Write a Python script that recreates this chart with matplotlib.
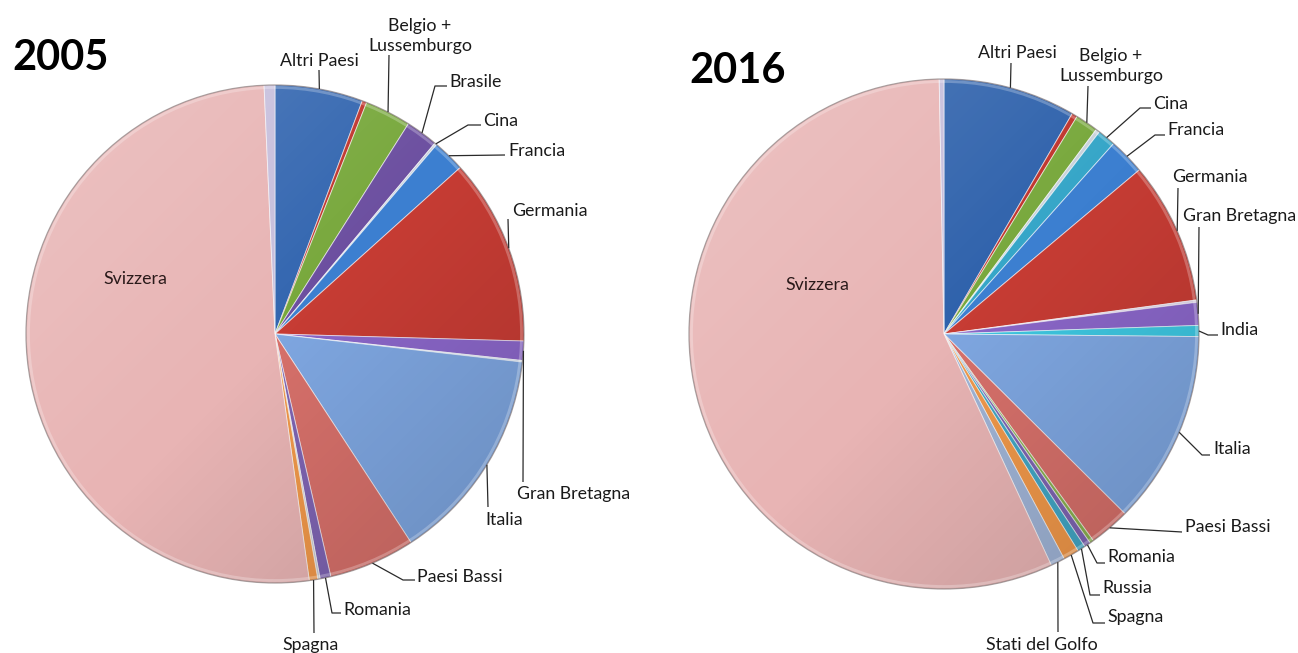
# -*- coding: utf-8 -*-
"""
Export share by destination country, 2005 vs 2016 (two pies).
"""
#=======================================================================
import numpy as np
import matplotlib
matplotlib.use("Agg")
import matplotlib.pyplot as plt
from matplotlib.patches import Circle
#=======================================================================

plt.rcParams['font.family'] = ['Lato', 'DejaVu Sans']

W, H = 1298, 653
LABEL_SIZE = 12.8

# slices run clockwise from 12 o'clock, shares in percent
labels_2005 = ['Altri Paesi', '', 'Belgio +\nLussemburgo', 'Brasile', 'Cina',
               'Francia', 'Germania', 'Gran Bretagna', '', 'Italia',
               'Paesi Bassi', 'Romania', '', 'Spagna', 'Svizzera', '']
values_2005 = [5.7, 0.3, 3.0, 2.1, 0.15, 2.1, 12.1, 1.25, 0.1, 14.0,
               5.6, 0.7, 0.15, 0.55, 51.5, 0.7]
colors_2005 = ['#3366b0', '#c0342c', '#78a83c', '#6c4fa0', '#c9d2dc',
               '#3c7fd0', '#c63c34', '#8a66c8', '#d8e4f4', '#7ea6e0',
               '#d6706a', '#7e64b2', '#c8ccd4', '#f0984a', '#e8b4b4', '#c6bedc']

labels_2016 = ['Altri Paesi', '', 'Belgio +\nLussemburgo', '', 'Cina',
               'Francia', 'Germania', '', 'Gran Bretagna', 'India', 'Italia',
               'Paesi Bassi', '', 'Romania', 'Russia', 'Spagna',
               'Stati del Golfo', 'Svizzera', '']
values_2016 = [8.4, 0.35, 1.45, 0.25, 1.15, 2.3, 9.0, 0.15, 1.45, 0.7, 12.3,
               2.6, 0.25, 0.4, 0.5, 1.0, 0.9, 56.7, 0.3]
colors_2016 = ['#2f62ac', '#c0342c', '#78a83c', '#c9d2dc', '#36a6c8',
               '#3c7fd0', '#c63c34', '#e0d8ec', '#8a66c8', '#3ec6e0', '#7ea6e0',
               '#d6706a', '#8ab050', '#7e64b2', '#42a6c4', '#f0984a',
               '#a0b4d6', '#e8b4b4', '#c6bedc']

# label layout in pixels (y down): text x, text y, align, leader waypoints
layout_2005 = {
    'Altri Paesi':            (319, 61, 'center', [(319, 70)]),
    'Belgio +\nLussemburgo':  (420, 36, 'center', [(389, 55)]),
    'Brasile':                (449, 82, 'left', [(435, 86), (447, 86)]),
    'Cina':                   (483, 121, 'left', [(468, 125), (481, 125)]),
    'Francia':                (508, 151, 'left', [(505, 155)]),
    'Germania':               (512, 211, 'left', [(508, 219)]),
    'Gran Bretagna':          (517, 494, 'left', [(523, 482)]),
    'Italia':                 (485, 520, 'left', [(488, 507)]),
    'Paesi Bassi':            (417, 577, 'left', [(403, 580), (415, 580)]),
    'Romania':                (343, 610, 'left', [(332, 613), (341, 613)]),
    'Spagna':                 (311, 645, 'center', [(314, 633)]),
}
layout_2016 = {
    'Altri Paesi':            (1017, 53, 'center', [(1011, 63)]),
    'Belgio +\nLussemburgo':  (1111, 66, 'center', [(1088, 86)]),
    'Cina':                   (1153, 104, 'left', [(1140, 108), (1151, 108)]),
    'Francia':                (1167, 130, 'left', [(1155, 135), (1165, 135)]),
    'Germania':               (1172, 177, 'left', [(1178, 188)]),
    'Gran Bretagna':          (1183, 216, 'left', [(1199, 227)]),
    'India':                  (1220, 330, 'left', [(1208, 335), (1218, 335)]),
    'Italia':                 (1213, 449, 'left', [(1202, 455), (1210, 455)]),
    'Paesi Bassi':            (1185, 527, 'left', [(1182, 532)]),
    'Romania':                (1107, 557, 'left', [(1097, 563), (1105, 563)]),
    'Russia':                 (1102, 588, 'left', [(1090, 595), (1100, 595)]),
    'Spagna':                 (1107, 617, 'left', [(1093, 623), (1105, 623)]),
    'Stati del Golfo':        (1042, 645, 'center', [(1058, 632)]),
}

#------------------------------------------------------------------------------
def shade_pie(ax, cx, cy, r):
    # light from top-left, dark towards bottom-right, clipped to the disc
    n = 300
    u = np.linspace(-1, 1, n)
    xx, yy = np.meshgrid(u, u)     # row 0 is the top (origin upper)
    t = (xx + yy) / 2.0
    light = np.clip(-t, 0, 1)
    dark = np.clip(t, 0, 1)
    img = np.zeros((n, n, 4))
    img[..., :3] = np.where(light[..., None] > 0, 1.0, 0.0)
    img[..., 3] = light * 0.20 + dark * 0.16
    im = ax.imshow(img, extent=(cx - r, cx + r, cy - r, cy + r),
                   origin='upper', zorder=3, interpolation='bilinear')
    disc = Circle((cx, cy), r, transform=ax.transData)
    im.set_clip_path(disc)
    # soft bevel: light inner ring, darker rim
    ax.add_patch(Circle((cx, cy), r - 2.5, fill=False, edgecolor='white',
                        linewidth=2.0, alpha=0.25, zorder=4))
    ax.add_patch(Circle((cx, cy), r, fill=False, edgecolor='#5a4a4a',
                        linewidth=0.9, alpha=0.5, zorder=4))
#end shade_pie
#------------------------------------------------------------------------------
def draw_pie(ax, center_px, radius, values, labels, colors, layout,
             title, title_px, inner_px):
    cx, cy = center_px[0], H - center_px[1]
    wedges, _ = ax.pie(values, colors=colors, startangle=90,
                       counterclock=False, center=(cx, cy), radius=radius,
                       wedgeprops=dict(edgecolor=(1, 1, 1, 0.55), linewidth=0.7))
    shade_pie(ax, cx, cy, radius)

    for w, lab in zip(wedges, labels):
        if lab not in layout:
            continue
        tx, ty, ha, pts = layout[lab]
        mid = np.deg2rad((w.theta1 + w.theta2) / 2.0)
        px = cx + radius * np.cos(mid)
        py = cy + radius * np.sin(mid)
        xs = [px] + [p[0] for p in pts]
        ys = [py] + [H - p[1] for p in pts]
        ax.plot(xs, ys, color='#2a2a2a', linewidth=0.9, zorder=5,
                solid_capstyle='butt')
        ax.text(tx, H - ty, lab, ha=ha, va='center', fontsize=LABEL_SIZE,
                color='#1a1a1a', linespacing=1.25, zorder=6,
                multialignment='center')

    ax.text(inner_px[0], H - inner_px[1], 'Svizzera', ha='center',
            va='center', fontsize=LABEL_SIZE, color='#2a1a1a', zorder=6)
    ax.text(title_px[0], H - title_px[1], title, ha='left', va='center',
            fontsize=30, fontweight='bold', color='black', zorder=6)
#end draw_pie
#==============================================================================
if __name__ == '__main__':
    fig = plt.figure(figsize=(W / 100, H / 100), dpi=100)
    ax = fig.add_axes([0, 0, 1, 1])

    draw_pie(ax, (275, 334), 249, values_2005, labels_2005, colors_2005,
             layout_2005, '2005', (12, 58), (135, 279))
    draw_pie(ax, (944, 334), 255, values_2016, labels_2016, colors_2016,
             layout_2016, '2016', (689, 71), (817, 285))

    ax.set_xlim(0, W)
    ax.set_ylim(0, H)
    ax.set_aspect('equal')
    ax.axis('off')

    fig.savefig('out.png', dpi=100, facecolor='white')
    plt.close(fig)
